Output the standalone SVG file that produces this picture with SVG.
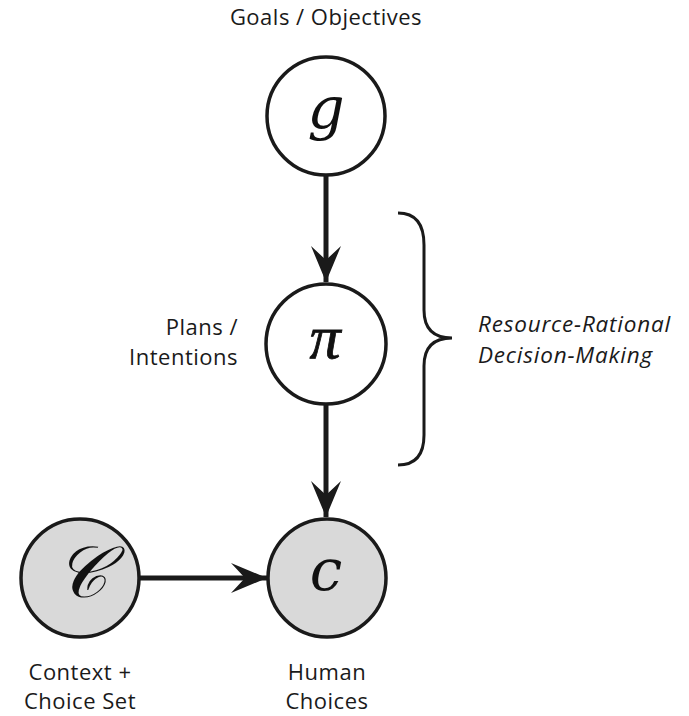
<svg xmlns="http://www.w3.org/2000/svg" width="689" height="716" viewBox="0 0 689 716">
  <style>
    .node { stroke: #1a1a1a; stroke-width: 3.5; }
    .open { fill: #ffffff; }
    .obs { fill: #d9d9d9; }
    .edge { stroke: #1a1a1a; stroke-width: 5; fill: none; }
    .label { font-family: "Open Sans", "Noto Sans", sans-serif; font-size: 22px; letter-spacing: 0.5px; fill: #1a1a1a; }
    .side { font-style: italic; font-size: 22.5px; letter-spacing: 0.8px; }
    .math { font-family: "DejaVu Serif", "Liberation Serif", serif; font-style: italic; font-size: 58px; fill: #111111; text-anchor: middle; }
    .brace { stroke: #1a1a1a; stroke-width: 3; fill: none; }
  </style>
  <defs>
    <marker id="head" markerUnits="userSpaceOnUse" viewBox="0 0 36 30" refX="36" refY="15" markerWidth="36" markerHeight="30" orient="auto">
      <path d="M0,0 L36,15 L0,30 L14,15 Z" fill="#1a1a1a"/>
    </marker>
  </defs>

  <rect width="689" height="716" fill="#ffffff"/>

  <!-- connectors -->
  <g id="edges">
    <line class="edge" x1="326" y1="176" x2="326" y2="282" marker-end="url(#head)"/>
    <line class="edge" x1="326" y1="405" x2="326" y2="517" marker-end="url(#head)"/>
    <line class="edge" x1="140" y1="578" x2="267" y2="578" marker-end="url(#head)"/>
  </g>

  <!-- goals -->
  <g id="node-g">
    <text class="label" x="326" y="25" text-anchor="middle">Goals / Objectives</text>
    <circle class="node open" cx="326" cy="116" r="59"/>
    <text class="math" x="326" y="128">g</text>
  </g>

  <!-- plans -->
  <g id="node-pi">
    <circle class="node open" cx="326" cy="344" r="60"/>
    <text class="math" x="325" y="358" style="font-family:'Liberation Serif',serif;font-size:62px;stroke:#111111;stroke-width:0.8">π</text>
    <text class="label" x="238" y="335" text-anchor="end">Plans /</text>
    <text class="label" x="238" y="365" text-anchor="end">Intentions</text>
  </g>

  <!-- context + choice set -->
  <g id="node-C">
    <circle class="node obs" cx="80" cy="578" r="59"/>
    <text class="math" x="81" y="597" style="font-size:72px">𝒞</text>
    <text class="label" x="80" y="680" text-anchor="middle">Context +</text>
    <text class="label" x="80" y="709" text-anchor="middle">Choice Set</text>
  </g>

  <!-- human choices -->
  <g id="node-c">
    <circle class="node obs" cx="327" cy="578" r="59"/>
    <text class="math" x="326" y="590">c</text>
    <text class="label" x="327" y="680" text-anchor="middle">Human</text>
    <text class="label" x="327" y="709" text-anchor="middle">Choices</text>
  </g>

  <!-- bracket -->
  <g id="bracket">
    <path class="brace" d="M398,213 Q424,213 424,245 L424,310 Q424,338 452,338 Q424,338 424,366 L424,435 Q424,465 398,465"/>
    <text class="label side" x="478" y="332">Resource-Rational</text>
    <text class="label side" x="478" y="363">Decision-Making</text>
  </g>
</svg>
